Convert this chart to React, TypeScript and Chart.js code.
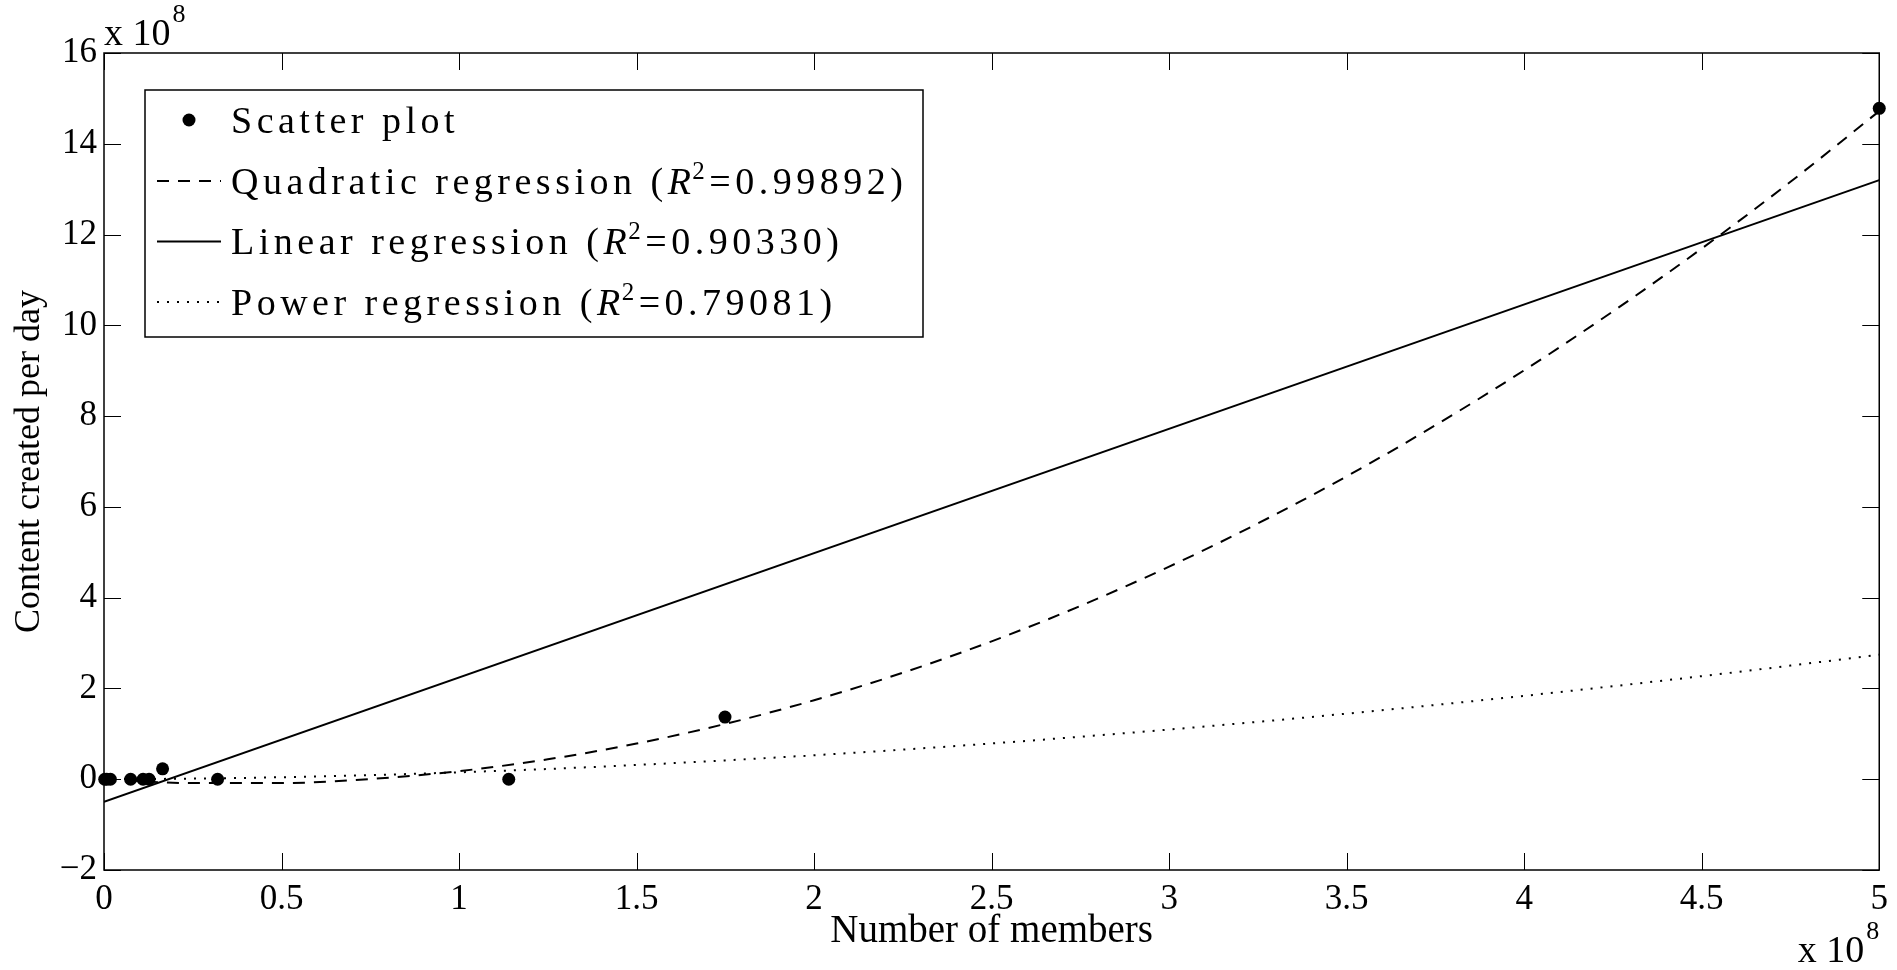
import React, { useEffect, useRef } from 'react';
import { Chart, registerables } from 'chart.js';

Chart.register(...registerables);

// ---- data (values in units of 10^8) ----
const scatterX = [0.002, 0.008, 0.018, 0.075, 0.11, 0.127, 0.165, 0.32, 1.14, 1.749, 5.0];
const scatterY = [0, 0, 0, 0, 0, 0, 0.23, 0, 0, 1.37, 14.78];

const curveX = [0, 0.25, 0.5, 0.75, 1, 1.25, 1.5, 1.75, 2, 2.25, 2.5, 2.75, 3, 3.25, 3.5, 3.75, 4, 4.25, 4.5, 4.75, 5];
const quadraticY = [0, -0.085, -0.084, 0.004, 0.178, 0.439, 0.786, 1.219, 1.74, 2.346, 3.038, 3.818, 4.684, 5.636, 6.674, 7.799, 9.01, 10.308, 11.692, 13.162, 14.72];
const powerY = [0, 0.013, 0.044, 0.09, 0.152, 0.226, 0.314, 0.415, 0.528, 0.652, 0.788, 0.936, 1.095, 1.264, 1.445, 1.636, 1.837, 2.049, 2.271, 2.503, 2.745];

const linearX = [0, 5];
const linearY = [-0.5, 13.2];

const seriesNames = ['Scatter plot', 'Quadratic regression', 'Linear regression', 'Power regression'];
const rSquared = ['', '0.99892', '0.90330', '0.79081'];

const xTickValues = [0, 0.5, 1, 1.5, 2, 2.5, 3, 3.5, 4, 4.5, 5];
const xTickLabels = ['0', '0.5', '1', '1.5', '2', '2.5', '3', '3.5', '4', '4.5', '5'];
const yTickValues = [-2, 0, 2, 4, 6, 8, 10, 12, 14, 16];
const yTickLabels = ['\u22122', '0', '2', '4', '6', '8', '10', '12', '14', '16'];

const xAxisTitle = 'Number of members';
const yAxisTitle = 'Content created per day';
const exponentBase = 'x 10';
const exponentPower = '8';

const SERIF = '"Liberation Serif", "DejaVu Serif", serif';

const toPoints = (xs: number[], ys: number[]) => xs.map((x, i) => ({ x, y: ys[i] }));

const framePlugin = {
  id: 'matlabFrame',
  afterDatasetsDraw(chart: any) {
    const { ctx, chartArea: a, scales } = chart;
    const L = 17;
    ctx.save();
    ctx.strokeStyle = '#000';
    ctx.lineWidth = 1;
    ctx.setLineDash([]);
    for (const t of scales.x.ticks) {
      const px = Math.round(scales.x.getPixelForValue(t.value)) + 0.5;
      ctx.beginPath();
      ctx.moveTo(px, a.bottom);
      ctx.lineTo(px, a.bottom - L);
      ctx.moveTo(px, a.top);
      ctx.lineTo(px, a.top + L);
      ctx.stroke();
    }
    for (const t of scales.y.ticks) {
      const py = Math.round(scales.y.getPixelForValue(t.value)) + 0.5;
      ctx.beginPath();
      ctx.moveTo(a.left, py);
      ctx.lineTo(a.left + L, py);
      ctx.moveTo(a.right, py);
      ctx.lineTo(a.right - L, py);
      ctx.stroke();
    }
    ctx.lineWidth = 1.5;
    ctx.strokeRect(a.left, a.top, a.right - a.left, a.bottom - a.top);
    ctx.restore();
  },
};

const annotationPlugin = {
  id: 'legendAndExponents',
  afterDraw(chart: any) {
    const { ctx, chartArea: a } = chart;
    ctx.save();
    // exponent labels
    ctx.fillStyle = '#000';
    ctx.textBaseline = 'alphabetic';
    ctx.textAlign = 'left';
    const baseFont = `38px ${SERIF}`;
    const supFont = `26px ${SERIF}`;
    ctx.font = baseFont;
    ctx.fillText(exponentBase, a.left, a.top - 8);
    let w = ctx.measureText(exponentBase).width;
    ctx.font = supFont;
    ctx.fillText(exponentPower, a.left + w + 2, a.top - 31);

    ctx.font = supFont;
    const pw = ctx.measureText(exponentPower).width;
    ctx.font = baseFont;
    w = ctx.measureText(exponentBase).width;
    const bx0 = a.right - pw - 2 - w;
    ctx.fillText(exponentBase, bx0, 962);
    ctx.font = supFont;
    ctx.fillText(exponentPower, bx0 + w + 2, 939);

    // legend
    const bx = a.left + 41;
    const by = a.top + 37;
    const bw = 778;
    const bh = 247;
    ctx.fillStyle = '#fff';
    ctx.fillRect(bx, by, bw, bh);
    ctx.strokeStyle = '#000';
    ctx.lineWidth = 1.5;
    ctx.strokeRect(bx, by, bw, bh);

    const rowH = 60.5;
    chart.data.datasets.forEach((ds: any, i: number) => {
      const cy = by + 30 + i * rowH;
      ctx.save();
      if (!ds.showLine) {
        ctx.fillStyle = '#000';
        ctx.beginPath();
        ctx.arc(bx + 44, cy, 6.5, 0, Math.PI * 2);
        ctx.fill();
      } else {
        ctx.strokeStyle = ds.borderColor;
        ctx.lineWidth = ds.borderWidth;
        ctx.setLineDash(ds.borderDash || []);
        ctx.beginPath();
        ctx.moveTo(bx + 12, cy + 0.5);
        ctx.lineTo(bx + 76, cy + 0.5);
        ctx.stroke();
      }
      ctx.restore();

      (ctx as any).letterSpacing = '4.5px';
      ctx.fillStyle = '#000';
      ctx.textAlign = 'left';
      ctx.textBaseline = 'alphabetic';
      const base = cy + 13;
      let x = bx + 86;
      ctx.font = `38px ${SERIF}`;
      const r2 = rSquared[i];
      const head = r2 ? ds.label + ' (' : ds.label;
      ctx.fillText(head, x, base);
      x += ctx.measureText(head).width;
      if (r2) {
        ctx.font = `italic 38px ${SERIF}`;
        ctx.fillText('R', x, base);
        x += ctx.measureText('R').width - 3;
        ctx.font = `25px ${SERIF}`;
        ctx.fillText('2', x, base - 15);
        x += ctx.measureText('2').width;
        ctx.font = `38px ${SERIF}`;
        ctx.fillText('=' + r2 + ')', x, base);
      }
      (ctx as any).letterSpacing = '0px';
    });
    ctx.restore();
  },
};

export default function App() {
  const canvasRef = useRef<HTMLCanvasElement | null>(null);

  useEffect(() => {
    const canvas = canvasRef.current;
    if (!canvas) return;
    const tickFont = { family: SERIF, size: 35 };
    const chart = new Chart(canvas, {
      type: 'scatter',
      data: {
        datasets: [
          {
            label: seriesNames[0],
            data: toPoints(scatterX, scatterY),
            showLine: false,
            pointRadius: 6.5,
            pointBackgroundColor: '#000',
            pointBorderWidth: 0,
            clip: false as any,
            order: 0,
          },
          {
            label: seriesNames[1],
            data: toPoints(curveX, quadraticY),
            showLine: true,
            borderColor: '#000',
            borderWidth: 2,
            borderDash: [12, 9],
            pointRadius: 0,
            cubicInterpolationMode: 'monotone',
            order: 1,
          },
          {
            label: seriesNames[2],
            data: toPoints(linearX, linearY),
            showLine: true,
            borderColor: '#000',
            borderWidth: 2,
            pointRadius: 0,
            order: 2,
          },
          {
            label: seriesNames[3],
            data: toPoints(curveX, powerY),
            showLine: true,
            borderColor: '#000',
            borderWidth: 2,
            borderDash: [2, 8],
            pointRadius: 0,
            cubicInterpolationMode: 'monotone',
            order: 3,
          },
        ] as any,
      },
      options: {
        animation: false,
        responsive: false,
        devicePixelRatio: 1,
        layout: { padding: { top: 53, right: 13, left: 0, bottom: 0 } },
        plugins: {
          legend: { display: false },
          tooltip: { enabled: false },
        },
        scales: {
          x: {
            type: 'linear',
            min: 0,
            max: 5,
            afterBuildTicks: (scale: any) => {
              scale.ticks = xTickValues.map((value) => ({ value }));
            },
            afterFit: (scale: any) => {
              scale.height = 100;
            },
            grid: { display: false, drawTicks: false },
            border: { display: false },
            ticks: {
              autoSkip: false,
              maxRotation: 0,
              padding: 9,
              color: '#000',
              font: tickFont,
              callback: (_v: any, i: number) => xTickLabels[i],
            },
            title: {
              display: true,
              text: xAxisTitle,
              color: '#000',
              font: { family: SERIF, size: 39 },
              padding: 15,
            },
          },
          y: {
            type: 'linear',
            min: -2,
            max: 16,
            afterBuildTicks: (scale: any) => {
              scale.ticks = yTickValues.map((value) => ({ value }));
            },
            afterFit: (scale: any) => {
              scale.width = 104;
            },
            grid: { display: false, drawTicks: false },
            border: { display: false },
            ticks: {
              autoSkip: false,
              padding: 7,
              color: '#000',
              font: tickFont,
              callback: (_v: any, i: number) => yTickLabels[i],
            },
            title: {
              display: true,
              text: yAxisTitle,
              color: '#000',
              font: { family: SERIF, size: 36 },
              padding: 8,
            },
          },
        },
      } as any,
      plugins: [framePlugin, annotationPlugin],
    });
    return () => chart.destroy();
  }, []);

  return (
    <div style={{ position: 'fixed', left: 0, top: 0, width: 1897, height: 970, background: '#fff' }}>
      <canvas ref={canvasRef} width={1897} height={970} style={{ display: 'block', width: 1897, height: 970 }} />
    </div>
  );
}
